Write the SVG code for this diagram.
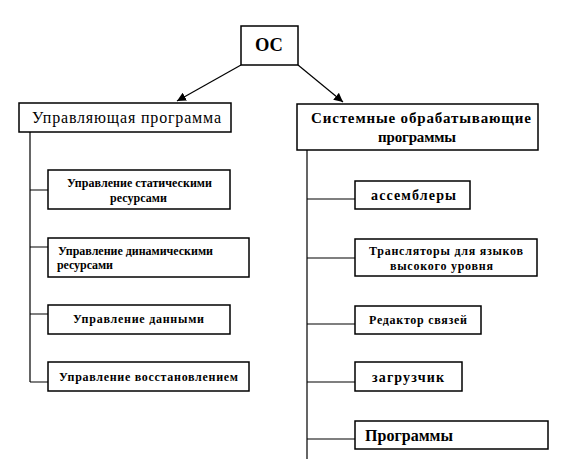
<svg xmlns="http://www.w3.org/2000/svg" width="569" height="464" viewBox="0 0 569 464">
<style>
.box{fill:#fff;stroke:#000;stroke-width:1.5}
.ln{fill:none;stroke:#000;stroke-width:1.2}
text{font-family:"Liberation Serif","Times New Roman",serif;fill:#000;font-weight:bold}
.big{font-size:18px}
.mid{font-size:15px}
.reg{font-size:16px;font-weight:normal}
.sm{font-size:12px}
.md{font-size:14px}
.lg{font-size:16px}
</style>
<defs>
<marker id="ah" viewBox="0 0 10 10" refX="10" refY="5" markerWidth="9" markerHeight="9" markerUnits="userSpaceOnUse" orient="auto">
<path d="M0,0 L10,5 L0,10 Z" fill="#000"/>
</marker>
</defs>
<rect width="569" height="464" fill="#fff"/>
<g id="connectors">
<line class="ln" x1="241" y1="65" x2="177" y2="101" marker-end="url(#ah)"/>
<line class="ln" x1="298" y1="65" x2="343" y2="102" marker-end="url(#ah)"/>
<path class="ln" d="M30,132 V382 M30,190 H48 M30,247 H48 M30,314 H48 M30,382 H48"/>
<path class="ln" d="M307,150 V459 M307,199 H355 M307,258 H355 M307,324 H355 M307,382 H355 M307,439 H355"/>
</g>
<g id="os"><rect class="box" x="241" y="26" width="57" height="39"/><text class="big" x="255" y="51" textLength="28" lengthAdjust="spacingAndGlyphs">ОС</text></g>
<g id="upr"><rect class="box" x="19" y="103" width="212" height="29"/><text class="reg" x="32" y="123" textLength="189" lengthAdjust="spacing">Управляющая программа</text></g>
<g id="sys"><rect class="box" x="297" y="104" width="241" height="46"/><text class="mid" x="311" y="123" textLength="220" lengthAdjust="spacing">Системные обрабатывающие</text><text class="mid" x="378" y="142" textLength="78" lengthAdjust="spacing">программы</text></g>
<g id="n1"><rect class="box" x="48" y="170" width="182" height="39"/><text class="sm" x="67" y="187" textLength="145" lengthAdjust="spacing">Управление статическими</text><text class="sm" x="110" y="202" textLength="57" lengthAdjust="spacing">ресурсами</text></g>
<g id="n2"><rect class="box" x="48" y="238" width="201" height="39"/><text class="sm" x="58" y="255" textLength="155" lengthAdjust="spacing">Управление динамическими</text><text class="sm" x="57" y="269" textLength="56" lengthAdjust="spacing">ресурсами</text></g>
<g id="n3"><rect class="box" x="48" y="305" width="182" height="29"/><text class="sm" x="73" y="323" textLength="131" lengthAdjust="spacing">Управление данными</text></g>
<g id="n4"><rect class="box" x="48" y="362" width="201" height="29"/><text class="sm" x="59" y="381" textLength="179" lengthAdjust="spacing">Управление восстановлением</text></g>
<g id="r1"><rect class="box" x="355" y="181" width="115" height="28"/><text class="md" x="371" y="200" textLength="85" lengthAdjust="spacing">ассемблеры</text></g>
<g id="r2"><rect class="box" x="355" y="239" width="182" height="37"/><text class="sm" x="369" y="255" textLength="154" lengthAdjust="spacing">Трансляторы для языков</text><text class="sm" x="390" y="270" textLength="103" lengthAdjust="spacing">высокого уровня</text></g>
<g id="r3"><rect class="box" x="355" y="306" width="126" height="28"/><text class="sm" x="369" y="324" textLength="98" lengthAdjust="spacing">Редактор связей</text></g>
<g id="r4"><rect class="box" x="355" y="362" width="107" height="29"/><text class="md" x="372" y="382" textLength="72" lengthAdjust="spacing">загрузчик</text></g>
<g id="r5"><rect class="box" x="355" y="421" width="193" height="28"/><text class="lg" x="365" y="441" textLength="88" lengthAdjust="spacing">Программы</text></g>
</svg>
